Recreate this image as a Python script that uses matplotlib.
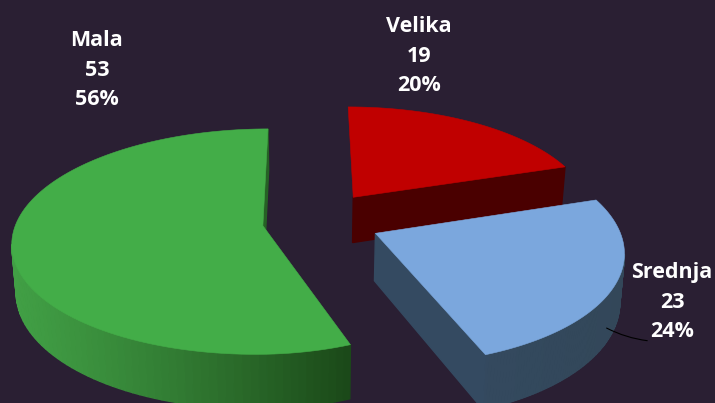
import numpy as np
import matplotlib
matplotlib.use("Agg")
import matplotlib.pyplot as plt
from matplotlib.colors import to_rgb
from matplotlib.patches import Polygon

# Data
categories = ["Velika", "Srednja", "Mala"]
values = [19, 23, 53]
percent_labels = ["20%", "24%", "56%"]

# Styles
BG = "#2a1f33"
top_colors = {"Velika": "#c00000", "Srednja": "#7ba7dd", "Mala": "#43ad48"}
side_left = {"Velika": "#4a0000", "Srednja": "#344b62", "Mala": "#419f45"}
side_right = {"Velika": "#4a0000", "Srednja": "#334759", "Mala": "#1b4818"}
label_pos = {"Velika": (419, 56), "Srednja": (672, 302), "Mala": (97, 70)}
draw_order = ["Mala", "Velika", "Srednja"]
# Horizontal fit of each slice: shift, gain left of its centre, gain right of its centre
x_fit = {"Velika": (0.0, 0.975, 0.975), "Srednja": (2.0, 0.975, 0.975), "Mala": (-2.0, 0.995, 0.92)}

# Projection of the flat pie onto the picture
VX, VY, HORIZON = 310.0, 226.0, -559.0
SCALE_X = 249.0
DIST = 7.1
DEPTH = 47.0
SHRINK = 0.985
GX, GY, EXPLODE_X, EXPLODE_Y = 0.045, 0.051, 0.23, 0.27


def project(X, Y):
    s = 1.0 / (1.0 + np.asarray(Y) / DIST)
    return VX + SCALE_X * np.asarray(X) * s, HORIZON + (VY - HORIZON) * s, s


def extrude(x, y, s):
    return VX + (x - VX) * SHRINK, y + DEPTH * s


fig = plt.figure(figsize=(7.15, 4.03), dpi=100, facecolor=BG)
ax = fig.add_axes([0, 0, 1, 1])
ax.set_xlim(0, 715)
ax.set_ylim(403, 0)
ax.axis("off")

total = sum(values)
fracs = np.array(values) / total
ends = np.cumsum(fracs) * 2 * np.pi
starts = ends - fracs * 2 * np.pi
wedges = {c: (a, b) for c, a, b in zip(categories, starts, ends)}


def mix(c1, c2, t):
    a, b = np.array(to_rgb(c1)), np.array(to_rgb(c2))
    return tuple(a + (b - a) * t)


anchor = None
for cat in draw_order:
    a, b = wedges[cat]
    mid = (a + b) / 2
    cx = GX + EXPLODE_X * np.sin(mid)
    cy = GY + EXPLODE_Y * np.cos(mid)
    th = np.linspace(a, b, 120)
    X = np.r_[cx + np.sin(th), cx]
    Y = np.r_[cy + np.cos(th), cy]
    x, y, s = project(X, Y)
    shift, gain_l, gain_r = x_fit[cat]
    xc = x[-1]
    x = xc + shift + (x - xc) * np.where(x < xc, gain_l, gain_r)
    xb, yb = extrude(x, y, s)
    xmin, xmax = x.min(), x.max()
    # The boundary runs clockwise on screen: a side facet faces the viewer when it runs leftwards
    for i in range(len(x) - 1):
        j = i + 1
        if x[j] - x[i] >= 0:
            continue
        t = ((x[i] + x[j]) / 2 - xmin) / (xmax - xmin)
        col = mix(side_left[cat], side_right[cat], t ** 1.2)
        ax.add_patch(Polygon([(x[i], y[i]), (x[j], y[j]), (xb[j], yb[j]), (xb[i], yb[i])],
                             closed=True, fc=col, ec=col, lw=1.0, zorder=2))
    ax.add_patch(Polygon(np.c_[x, y], closed=True, fc=top_colors[cat], ec=top_colors[cat],
                         lw=0.4, zorder=3))
    if cat == "Srednja":
        # Leader line from the rim of the slice to its label
        k = int(0.56 * len(th))
        anchor = (x[k] + (xb[k] - x[k]) * 0.6, y[k] + (yb[k] - y[k]) * 0.6)

for cat, val, pct in zip(categories, values, percent_labels):
    lx, ly = label_pos[cat]
    ax.text(lx, ly, f"{cat}\n{val}\n{pct}", color="white", ha="center", va="center",
            fontsize=15.5, fontweight="bold", family="Open Sans", linespacing=1.56, zorder=6)

lbl = label_pos["Srednja"]
ax.annotate("", xy=anchor, xytext=(lbl[0] - 22, lbl[1] + 39),
            arrowprops=dict(arrowstyle="-", color="black", lw=0.8,
                            connectionstyle="arc3,rad=-0.1"), zorder=5)

fig.savefig("out.png", dpi=100, facecolor=BG)
